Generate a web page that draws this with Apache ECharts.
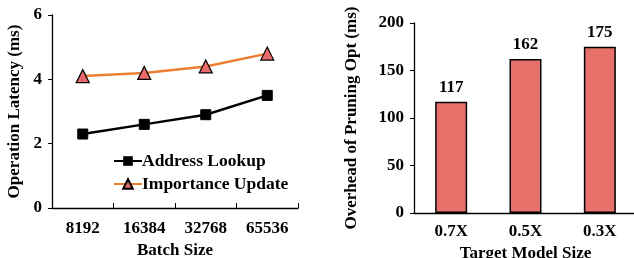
<!DOCTYPE html>
<html>
<head>
<meta charset="utf-8">
<script src="https://cdn.jsdelivr.net/npm/echarts@6/dist/echarts.min.js"></script>
<style>
  html, body { margin: 0; padding: 0; background: #fff; }
  #chart { width: 634px; height: 258px; }
</style>
</head>
<body>
<div id="chart"></div>
<script>
// left panel: latency vs batch size
const batchSizes = ['8192', '16384', '32768', '65536'];
const addressLookup = [2.3, 2.6, 2.9, 3.5];
const importanceUpdate = [4.1, 4.2, 4.4, 4.8];

// right panel: pruning overhead vs target size
const targetSizes = ['0.7X', '0.5X', '0.3X'];
const pruningOverhead = [117, 162, 175];

const FONT = '"Liberation Serif", "Times New Roman", serif';
const txt = { fontFamily: FONT, fontWeight: 'bold', color: '#000', fontSize: 17 };
const axisLine = { show: true, lineStyle: { color: '#000', width: 1.3 } };

const chart = echarts.init(document.getElementById('chart'), null, { renderer: 'canvas' });
chart.setOption({
  animation: false,
  textStyle: { fontFamily: FONT },
  grid: [
    { left: 52, top: 15, width: 246, height: 193, outerBoundsMode: 'none', containLabel: false },
    { left: 414, top: 23, width: 223, height: 190, outerBoundsMode: 'none', containLabel: false },
  ],
  legend: {
    orient: 'vertical',
    left: 108, top: 147,
    itemWidth: 28, itemHeight: 12, itemGap: 5,
    textStyle: Object.assign({}, txt, { fontSize: 17.5, padding: [0, 0, 0, -5] }),
    data: ['Address Lookup', 'Importance Update'],
  },
  xAxis: [
    {
      gridIndex: 0, type: 'category', data: batchSizes,
      axisLine: axisLine,
      axisTick: { show: true, inside: true, length: 5, lineStyle: { color: '#000' } },
      axisLabel: Object.assign({}, txt, { margin: 12 }),
      name: 'Batch Size', nameLocation: 'middle', nameGap: 30,
      nameTextStyle: txt,
    },
    {
      gridIndex: 1, type: 'category', data: targetSizes,
      axisLine: axisLine,
      axisTick: { show: false },
      axisLabel: Object.assign({}, txt, { margin: 10 }),
      name: 'Target Model Size', nameLocation: 'middle', nameGap: 32,
      nameTextStyle: txt,
    },
  ],
  yAxis: [
    {
      gridIndex: 0, type: 'value', min: 0, max: 6, interval: 2,
      axisLine: axisLine,
      axisTick: { show: true, length: 4, lineStyle: { color: '#000' } },
      splitLine: { show: false },
      axisLabel: Object.assign({}, txt, { margin: 10 }),
      name: 'Operation Latency (ms)', nameLocation: 'middle', nameGap: 29,
      nameTextStyle: txt,
    },
    {
      gridIndex: 1, type: 'value', min: 0, max: 200, interval: 50,
      axisLine: axisLine,
      axisTick: { show: true, length: 4, lineStyle: { color: '#000' } },
      splitLine: { show: false },
      axisLabel: Object.assign({}, txt, { margin: 10 }),
      name: 'Overhead of Pruning Opt (ms)', nameLocation: 'middle', nameGap: 54,
      nameTextStyle: txt,
    },
  ],
  series: [
    {
      name: 'Address Lookup', type: 'line', xAxisIndex: 0, yAxisIndex: 0,
      data: addressLookup,
      symbol: 'rect', symbolSize: 10,
      lineStyle: { color: '#000', width: 2.5 },
      itemStyle: { color: '#000', borderColor: '#000' },
    },
    {
      name: 'Importance Update', type: 'line', xAxisIndex: 0, yAxisIndex: 0,
      data: importanceUpdate,
      symbol: 'triangle', symbolSize: 13,
      lineStyle: { color: '#ED7D31', width: 2.5 },
      itemStyle: { color: '#E86A6A', borderColor: '#000', borderWidth: 1.2 },
    },
    {
      name: 'Overhead', type: 'bar', xAxisIndex: 1, yAxisIndex: 1,
      data: pruningOverhead,
      barWidth: 32,
      itemStyle: { color: '#E8706A', borderColor: '#000', borderWidth: 1.5 },
      label: Object.assign({ show: true, position: 'top', distance: 6 }, txt),
    },
  ],
});
</script>
</body>
</html>
